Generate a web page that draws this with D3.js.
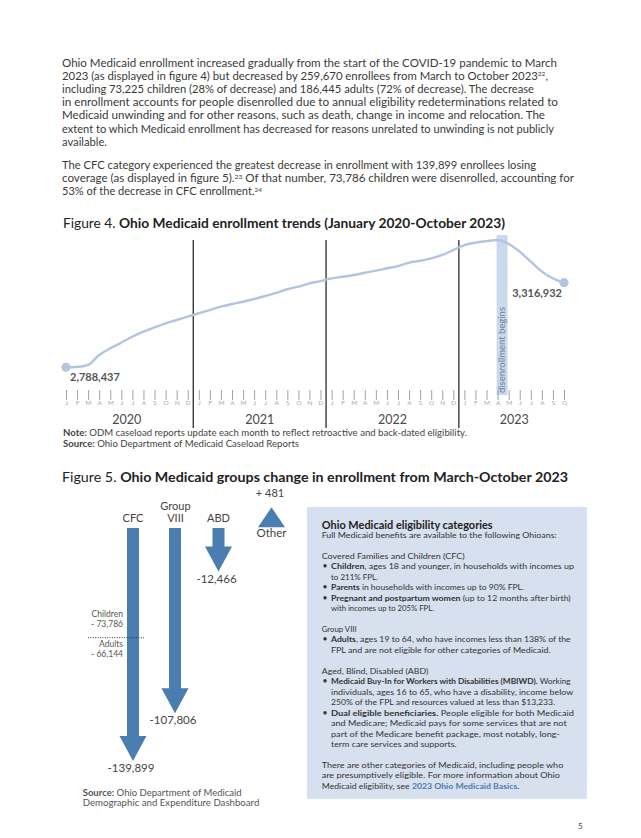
<!DOCTYPE html>
<html><head><meta charset="utf-8">
<script src="https://cdn.jsdelivr.net/npm/d3@7/dist/d3.min.js"></script>
<style>body{margin:0;background:#fff} svg{display:block} text{white-space:pre}</style>
</head><body>
<script>
// ---------------- DATA ----------------
const monthTicks = ["J","F","M","A","M","J","J","A","S","O","N","D",
                    "J","F","M","A","M","J","J","A","S","O","N","D",
                    "J","F","M","A","M","J","J","A","S","O","N","D",
                    "J","F","M","A","M","J","J","A","S","O"];
const enrollment = [2788437,2790000,2803000,2865000,2907000,2942000,2980000,3011000,3038000,3063000,3084000,3105000,
                    3126000,3146000,3167000,3184000,3198000,3215000,3234000,3254000,3276000,3292000,3313000,3327000,
                    3344000,3354000,3365000,3379000,3392000,3407000,3421000,3442000,3454000,3469000,3490000,3521000,
                    3552000,3567000,3576602,3584000,3559000,3511000,3448000,3386000,3344000,3316932];
const yearLabels = ["2020","2021","2022","2023"];
const yearStartIndex = [0,12,24,36];
const disenrollIndex = 39;            // April 2023
const groups = ["CFC","Group VIII","ABD","Other"];
const groupChange = [-139899,-107806,-12466,481];
const groupChangeLabels = ["-139,899","-107,806","-12,466","+ 481"];
const cfcParts = ["Children","Adults"];
const cfcPartValues = [-73786,-66144];
const cfcPartLabels = ["- 73,786","- 66,144"];

// ---------------- SETUP ----------------
const FONT = "Lato, 'Open Sans', sans-serif";
const TXT = "#3a3a3a";
const svg = d3.select("body").append("svg").attr("width",641).attr("height",838);

function addLine(parent, x, y, segs, o) {
  const t = parent.append("text").attr("x", x).attr("y", y)
    .attr("font-family", FONT).attr("font-size", o.size).attr("fill", o.fill || TXT);
  if (o.anchor) t.attr("text-anchor", o.anchor);
  let supOpen = false;
  segs.forEach(s => {
    const txt = typeof s === "string" ? s : s[0];
    const st = typeof s === "string" ? "" : s[1];
    const ts = t.append("tspan").text(txt);
    if (st.includes("b")) ts.attr("font-weight", 700);
    if (st.includes("c")) ts.attr("fill", "#4a7db0");
    if (st.includes("s")) { ts.attr("font-size", o.size*0.58).attr("dy", -o.size*0.33); supOpen = true; }
    else if (supOpen) { ts.attr("dy", o.size*0.33); supOpen = false; }
  });
  if (o.width) t.attr("textLength", o.width).attr("lengthAdjust", "spacingAndGlyphs");
  return t;
}

// ---------------- INTRO TEXT ----------------
const para = [
  [["Ohio Medicaid enrollment increased gradually from the start of the COVID-19 pandemic to March"], 495],
  [["2023 (as displayed in figure 4) but decreased by 259,670 enrollees from March to October 2023", ["22","s"], ","], 486],
  [["including 73,225 children (28% of decrease) and 186,445 adults (72% of decrease). The decrease"], 472],
  [["in enrollment accounts for people disenrolled due to annual eligibility redeterminations related to"], 496],
  [["Medicaid unwinding and for other reasons, such as death, change in income and relocation. The"], 483],
  [["extent to which Medicaid enrollment has decreased for reasons unrelated to unwinding is not publicly"], 492],
  [["available."], 45],
];
const para2 = [
  [["The CFC category experienced the greatest decrease in enrollment with 139,899 enrollees losing"], 474],
  [["coverage (as displayed in figure 5).", ["23","s"], " Of that number, 73,786 children were disenrolled, accounting for"], 512],
  [["53% of the decrease in CFC enrollment.", ["24","s"]], 200],
];
const intro = svg.append("g");
para.forEach((l,i) => addLine(intro, 62, 66.5 + i*13.2, l[0], {size:11, width:l[1]}));
para2.forEach((l,i) => addLine(intro, 62, 169 + i*13.2, l[0], {size:11, width:l[1]}));

// ---------------- FIGURE 4 ----------------
addLine(svg, 63, 228, ["Figure 4. ", ["Ohio Medicaid enrollment trends (January 2020-October 2023)","b"]], {size:14, fill:"#222", width:442});

const x = d3.scaleLinear().domain([0, monthTicks.length-1]).range([66, 564]);
const y = d3.scaleLinear().domain([enrollment[0], enrollment[enrollment.length-1]]).range([367.3, 282.7]);
const f4 = svg.append("g");

// disenrollment band
f4.append("rect").attr("x", x(disenrollIndex)-1).attr("y", 235)
  .attr("width", x(disenrollIndex+0.9)-x(disenrollIndex)+1).attr("height", 160).attr("fill", "#cbd9ec");
f4.append("text").attr("transform", `translate(${x(disenrollIndex)+7.5},393) rotate(-90)`)
  .attr("font-family", FONT).attr("font-size", 9.5).attr("fill", "#6b7f98")
  .attr("textLength", 86).attr("lengthAdjust", "spacingAndGlyphs").text("disenrollment begins");

// year dividers
[1,2,3].forEach(k => {
  const xx = x(yearStartIndex[k]-0.5);
  f4.append("line").attr("x1", xx).attr("x2", xx).attr("y1", 240).attr("y2", 428)
    .attr("stroke", "#2b2b2b").attr("stroke-width", 1.3);
});

// month ticks + letters
const axis = d3.axisBottom(x).tickValues(d3.range(monthTicks.length)).tickSize(10).tickFormat(i => monthTicks[i]);
const ag = f4.append("g").attr("transform", "translate(0,390)").call(axis);
ag.select(".domain").remove();
ag.selectAll(".tick line").attr("stroke", "#8a8a8a").attr("stroke-width", 0.8);
ag.selectAll(".tick text").attr("y", 11).attr("dy", "0.6em").attr("font-family", FONT)
  .attr("font-size", 6.5).attr("fill", "#a8a8a8");

// year labels
yearLabels.forEach((yl, k) => {
  const s = yearStartIndex[k], e = Math.min(s + 11, monthTicks.length - 1);
  f4.append("text").attr("x", (x(s)+x(e))/2).attr("y", 423.5).attr("text-anchor","middle")
    .attr("font-family", FONT).attr("font-size", 12.5).attr("fill", "#4a4a4a").text(yl);
});

// line
const line = d3.line().x((d,i) => x(i)).y(d => y(d)).curve(d3.curveMonotoneX);
f4.append("path").datum(enrollment).attr("d", line).attr("fill","none")
  .attr("stroke", "#b3c5de").attr("stroke-width", 2.4);
[0, enrollment.length-1].forEach(i => {
  f4.append("circle").attr("cx", x(i)).attr("cy", y(enrollment[i])).attr("r", 4.6).attr("fill", "#b3c5e0");
});
f4.append("text").attr("x", x(0)+4).attr("y", y(enrollment[0])+13.5)
  .attr("font-family", FONT).attr("font-size", 11).attr("font-weight", 700).attr("fill", "#555")
  .text(d3.format(",")(enrollment[0]));
f4.append("text").attr("x", x(enrollment.length-1)-2).attr("y", y(enrollment[enrollment.length-1])+14.5)
  .attr("text-anchor","end")
  .attr("font-family", FONT).attr("font-size", 11).attr("font-weight", 700).attr("fill", "#555")
  .text(d3.format(",")(enrollment[enrollment.length-1]));

addLine(svg, 63, 435.5, [["Note:","b"], " ODM caseload reports update each month to reflect retroactive and back-dated eligibility."], {size:8.5, fill:"#444", width:404});
addLine(svg, 63, 446.5, [["Source:","b"], " Ohio Department of Medicaid Caseload Reports"], {size:8.5, fill:"#444", width:236});

// ---------------- FIGURE 5 ----------------
addLine(svg, 62, 482, ["Figure 5. ", ["Ohio Medicaid groups change in enrollment from March-October 2023","b"]], {size:14, fill:"#222", width:506});

const f5 = svg.append("g");
const ARROW = "#4a7db0";
const gx = d3.scaleOrdinal().domain(groups).range([133, 175, 218.5, 271.5]);
const shaft = d3.scaleLinear().domain([0, 139899]).range([0, 208]);
const TOP = 528, SW = 12, HW = 27;

groups.forEach((g, i) => {
  const v = groupChange[i], cx = gx(g);
  const L = shaft(Math.abs(v));
  let p;
  if (v < 0) {
    const HL = 25;
    p = `M${cx-SW/2},${TOP}L${cx+SW/2},${TOP}L${cx+SW/2},${TOP+L}L${cx+HW/2},${TOP+L}L${cx},${TOP+L+HL}L${cx-HW/2},${TOP+L}L${cx-SW/2},${TOP+L}Z`;
    f5.append("path").attr("d", p).attr("fill", ARROW);
    f5.append("text").attr("x", cx-2).attr("y", TOP+L+HL+11).attr("text-anchor","middle")
      .attr("font-family", FONT).attr("font-size", 11.5).attr("fill", "#444").text(groupChangeLabels[i]);
    const words = g.split(" ");
    words.forEach((w, j) => {
      f5.append("text").attr("x", cx + (words.length>1?0.5:0)).attr("y", 521.5 - (words.length-1-j)*11.5)
        .attr("text-anchor","middle").attr("font-family", FONT).attr("font-size", 11)
        .attr("fill", "#444").text(w);
    });
  } else {
    const HL = 20, base = TOP - L;
    p = `M${cx-HW/2},${base}L${cx},${base-HL}L${cx+HW/2},${base}Z`;
    f5.append("path").attr("d", p).attr("fill", ARROW);
    f5.append("text").attr("x", cx-1.5).attr("y", base-HL-10).attr("text-anchor","middle")
      .attr("font-family", FONT).attr("font-size", 11).attr("fill", "#444").text(groupChangeLabels[i]);
    f5.append("text").attr("x", cx).attr("y", base+10).attr("text-anchor","middle")
      .attr("font-family", FONT).attr("font-size", 11.5).attr("fill", "#444").text(g);
  }
});

// CFC split
const splitY = TOP + shaft(Math.abs(cfcPartValues[0]));
f5.append("line").attr("x1", 88).attr("x2", 144).attr("y1", splitY).attr("y2", splitY)
  .attr("stroke", "#333").attr("stroke-width", 1).attr("stroke-dasharray", "1,1.4");
f5.append("text").attr("x", 123).attr("y", splitY-20.5).attr("text-anchor","end")
  .attr("font-family", FONT).attr("font-size", 8.5).attr("fill", "#555").text(cfcParts[0]);
f5.append("text").attr("x", 123).attr("y", splitY-11).attr("text-anchor","end")
  .attr("font-family", FONT).attr("font-size", 8.5).attr("fill", "#555").text(cfcPartLabels[0]);
f5.append("text").attr("x", 123).attr("y", splitY+9.5).attr("text-anchor","end")
  .attr("font-family", FONT).attr("font-size", 8.5).attr("fill", "#555").text(cfcParts[1]);
f5.append("text").attr("x", 123).attr("y", splitY+19.5).attr("text-anchor","end")
  .attr("font-family", FONT).attr("font-size", 8.5).attr("fill", "#555").text(cfcPartLabels[1]);

addLine(svg, 82.7, 795.5, [["Source:","b"], " Ohio Department of Medicaid"], {size:8.5, fill:"#555", width:159});
addLine(svg, 82.7, 805.5, ["Demographic and Expenditure Dashboard"], {size:8.5, fill:"#555", width:176.6});

// ---------------- INFO BOX ----------------
const box = svg.append("g");
box.append("rect").attr("x", 307).attr("y", 507).attr("width", 280).attr("height", 292).attr("fill", "#d6e0ee");
addLine(box, 321.7, 528.5, [["Ohio Medicaid eligibility categories","b"]], {size:10.5, fill:"#222", width:171});
// [k, bullet?, segments, width]
const boxLines = [
  [1, 0, ["Full Medicaid benefits are available to the following Ohioans:"], 235],
  [3, 0, ["Covered Families and Children (CFC)"], 143],
  [4, 1, [["Children","b"], ", ages 18 and younger, in households with incomes up"], 243],
  [5, 2, ["to 211% FPL."], 47],
  [6, 1, [["Parents","b"], " in households with incomes up to 90% FPL."], 193],
  [7, 1, [["Pregnant and postpartum women","b"], " (up to 12 months after birth)"], 239.7],
  [8, 2, ["with incomes up to 205% FPL."], 103],
  [10, 0, ["Group VIII"], 35],
  [11, 1, [["Adults","b"], ", ages 19 to 64, who have incomes less than 138% of the"], 239.7],
  [12, 2, ["FPL and are not eligible for other categories of Medicaid."], 219.7],
  [14, 0, ["Aged, Blind, Disabled (ABD)"], 106.6],
  [15, 1, [["Medicaid Buy-In for Workers with Disabilities (MBIWD).","b"], " Working"], 239.7],
  [16, 2, ["individuals, ages 16 to 65, who have a disability, income below"], 242.3],
  [17, 2, ["250% of the FPL and resources valued at less than $13,233."], 224],
  [18, 1, [["Dual eligible beneficiaries.","b"], " People eligible for both Medicaid"], 243],
  [19, 2, ["and Medicare; Medicaid pays for some services that are not"], 235.7],
  [20, 2, ["part of the Medicare benefit package, most notably, long-"], 229],
  [21, 2, ["term care services and supports."], 125.7],
  [23, 0, ["There are other categories of Medicaid, including people who"], 241.6],
  [24, 0, ["are presumptively eligible. For more information about Ohio"], 238.3],
  [25, 0, ["Medicaid eligibility, see ", ["2023 Ohio Medicaid Basics","bc"], "."], 197.6],
];
boxLines.forEach(([k, b, segs, w]) => {
  const yy = 527.5 + k*10.45;
  if (b === 1) box.append("text").attr("x", 322.5).attr("y", yy).attr("font-family", FONT)
    .attr("font-size", 8.5).attr("fill", "#333").text("•");
  addLine(box, b ? 331 : 321.7, yy, segs, {size:8.3, fill:"#333", width:w});
});

// page number
svg.append("text").attr("x", 578).attr("y", 829).attr("font-family", FONT).attr("font-size", 8)
  .attr("fill", "#444").text("5");
</script>
</body></html>
